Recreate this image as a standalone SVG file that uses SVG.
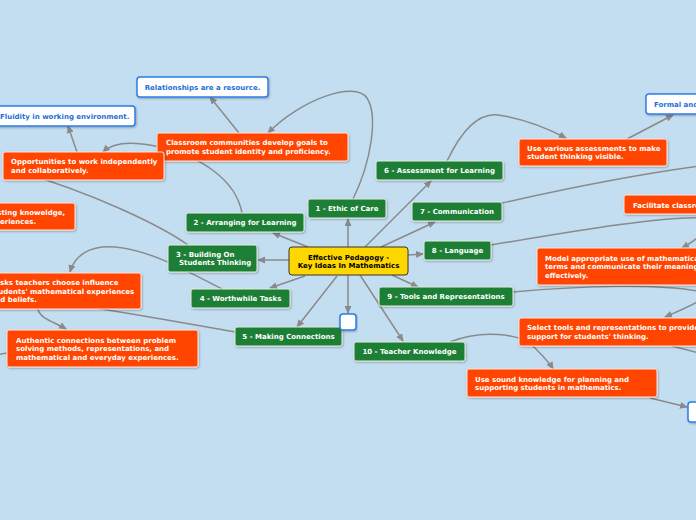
<svg xmlns="http://www.w3.org/2000/svg" width="696" height="520" viewBox="0 0 696 520">
<defs>
<marker id="arr" markerUnits="userSpaceOnUse" markerWidth="9" markerHeight="8" refX="7" refY="3.5" orient="auto">
<path d="M0,0 L8,3.5 L0,7 z" fill="#8a8a8a"/>
</marker>
<filter id="sh" x="-10%" y="-20%" width="120%" height="150%">
<feDropShadow dx="0.8" dy="1" stdDeviation="0.8" flood-color="#000" flood-opacity="0.3"/>
</filter>
</defs>
<style>
.bg{fill:#c4def1}
.c{fill:none;stroke:#8a8a8a;stroke-width:1.5}
.a{marker-end:url(#arr)}
.g{fill:#1f7f35;stroke:#e6efe6;stroke-width:1;filter:url(#sh)}
.o{fill:#ff4500;stroke:#ffe6dc;stroke-width:1;filter:url(#sh)}
.w{fill:#ffffff;stroke:#2b7de9;stroke-width:1.5;filter:url(#sh)}
.y{fill:#ffd700;stroke:#333333;stroke-width:1}
text{font-family:"DejaVu Sans","Liberation Sans",sans-serif;font-weight:bold;font-size:7px}
.tw{fill:#ffffff}
.tb{fill:#1e6fd9}
.tk{fill:#000000}
.m{text-anchor:middle}
</style>
<rect class="bg" x="0" y="0" width="696" height="520"/>
<g id="connectors">
<path class="c a" d="M348,247 L348,219"/>
<path class="c a" d="M308,247 L273,233"/>
<path class="c a" d="M289,260 L258,260"/>
<path class="c a" d="M305,276 L270,288"/>
<path class="c a" d="M337,276 L297,327"/>
<path class="c a" d="M348,275 L348,313"/>
<path class="c a" d="M360,275 L403,341"/>
<path class="c a" d="M392,275 L418,287"/>
<path class="c a" d="M408,255 L423,254"/>
<path class="c a" d="M381,247 L435,222"/>
<path class="c a" d="M365,247 L431,181"/>
<path class="c a" d="M353,199 C372,160 378,115 367,98 C355,80 300,100 268,133"/>
<path class="c a" d="M239,133 L210,97"/>
<path class="c a" d="M242,213 C236,180 200,155 155,146 C130,141 112,143 103,152"/>
<path class="c a" d="M77,152 L68,126"/>
<path class="c" d="M188,245 C160,225 90,192 20,172"/>
<path class="c a" d="M222,289 C185,270 150,250 115,247 C90,245 75,255 70,272"/>
<path class="c a" d="M235,332 C190,324 140,315 95,308 C55,302 35,300 38,310 C42,320 55,322 66,329"/>
<path class="c" d="M7,353 L-10,356"/>
<path class="c a" d="M447,161 C462,130 478,113 498,115 C520,118 545,127 566,138"/>
<path class="c a" d="M627,139 L673,115"/>
<path class="c" d="M502,203 C560,190 640,174 700,166"/>
<path class="c a" d="M491,245 C580,230 670,215 705,218 C715,222 705,235 682,248"/>
<path class="c a" d="M513,292 C580,286 660,283 702,292 C712,297 690,306 665,317"/>
<path class="c a" d="M450,342 C480,330 520,332 535,348 C543,356 549,362 553,369"/>
<path class="c a" d="M650,398 L687,407"/>
<path class="c" d="M672,346 L710,356"/>
</g>
<g id="center">
<rect class="y" x="289" y="247" width="119" height="28" rx="3"/>
<text class="tk m" x="348.5" y="259.8">Effective Pedagogy -</text>
<text class="tk m" x="348.5" y="268">Key Ideas In Mathematics</text>
</g>
<g id="n1"><rect class="g" x="308" y="199" width="78" height="19" rx="2"/><text class="tw m" x="347" y="211">1 - Ethic of Care</text></g>
<g id="n2"><rect class="g" x="186" y="213" width="118" height="19" rx="2"/><text class="tw m" x="245" y="225">2 - Arranging for Learning</text></g>
<g id="n3"><rect class="g" x="168" y="245" width="89" height="27" rx="2"/><text class="tw" x="176" y="256.8">3 - Building On</text><text class="tw" x="179" y="265.2">Students Thinking</text></g>
<g id="n4"><rect class="g" x="191" y="289" width="99" height="19" rx="2"/><text class="tw m" x="240.5" y="301">4 - Worthwhile Tasks</text></g>
<g id="n5"><rect class="g" x="235" y="327" width="107" height="19" rx="2"/><text class="tw m" x="288.5" y="339">5 - Making Connections</text></g>
<g id="n6"><rect class="g" x="376" y="161" width="127" height="19" rx="2"/><text class="tw m" x="439.5" y="173">6 - Assessment for Learning</text></g>
<g id="n7"><rect class="g" x="412" y="202" width="90" height="19" rx="2"/><text class="tw m" x="457" y="214">7 - Communication</text></g>
<g id="n8"><rect class="g" x="424" y="241" width="67" height="19" rx="2"/><text class="tw m" x="457.5" y="253">8 - Language</text></g>
<g id="n9"><rect class="g" x="379" y="287" width="134" height="19" rx="2"/><text class="tw m" x="446" y="299">9 - Tools and Representations</text></g>
<g id="n10"><rect class="g" x="354" y="342" width="111" height="19" rx="2"/><text class="tw m" x="409.5" y="354">10 - Teacher Knowledge</text></g>
<g id="blank1"><rect class="w" x="340" y="314" width="16" height="16" rx="3"/></g>
<g id="classroom"><rect class="o" x="157" y="133" width="191" height="28" rx="2"/><text class="tw" x="166" y="145">Classroom communities develop goals to</text><text class="tw" x="166" y="154">promote student identity and proficiency.</text></g>
<g id="relationships"><rect class="w" x="137" y="77" width="131" height="20" rx="3"/><text class="tb m" x="202.5" y="89.8">Relationships are a resource.</text></g>
<g id="opportunities"><rect class="o" x="3" y="152" width="161" height="28" rx="2"/><text class="tw" x="11" y="163.5">Opportunities to work independently</text><text class="tw" x="11" y="172.5">and collaboratively.</text></g>
<g id="fluidity"><rect class="w" x="-8" y="106" width="143" height="20" rx="3"/><text class="tb" x="0" y="118.8">Fluidity in working environment.</text></g>
<g id="existing"><rect class="o" x="-60" y="203" width="135" height="27" rx="2"/><text class="tw" x="-2.7" y="215">sting knoweldge,</text><text class="tw" x="0" y="223.5">eriences.</text></g>
<g id="tasks"><rect class="o" x="-60" y="273" width="201" height="36" rx="2"/><text class="tw" x="-4.7" y="285.2">asks teachers choose influence</text><text class="tw" x="-5.2" y="293.8">tudents' mathematical experiences</text><text class="tw" x="-4.7" y="302.2">nd beliefs.</text></g>
<g id="authentic"><rect class="o" x="7" y="330" width="191" height="37" rx="2"/><text class="tw" x="16" y="342.5">Authentic connections between problem</text><text class="tw" x="16" y="351.2">solving methods, representations, and</text><text class="tw" x="16" y="359.8">mathematical and everyday experiences.</text></g>
<g id="various"><rect class="o" x="519" y="139" width="148" height="27" rx="2"/><text class="tw" x="527" y="151.2">Use various assessments to make</text><text class="tw" x="527" y="159.4">student thinking visible.</text></g>
<g id="formal"><rect class="w" x="646" y="94" width="100" height="20" rx="3"/><text class="tb" x="654" y="106.8">Formal and</text></g>
<g id="facilitate"><rect class="o" x="624" y="195" width="100" height="19" rx="2"/><text class="tw" x="633" y="208.2">Facilitate classro</text></g>
<g id="model"><rect class="o" x="537" y="248" width="200" height="37" rx="2"/><text class="tw" x="545" y="260.8">Model appropriate use of mathematical</text><text class="tw" x="545" y="269.3">terms and communicate their meaning</text><text class="tw" x="545" y="277.8">effectively.</text></g>
<g id="select"><rect class="o" x="519" y="318" width="200" height="28" rx="2"/><text class="tw" x="527" y="329.8">Select tools and representations to provide</text><text class="tw" x="527" y="338.5">support for students' thinking.</text></g>
<g id="sound"><rect class="o" x="467" y="369" width="190" height="28" rx="2"/><text class="tw" x="475" y="381.8">Use sound knowledge for planning and</text><text class="tw" x="475" y="390.2">supporting students in mathematics.</text></g>
<g id="blank2"><rect class="w" x="688" y="402" width="30" height="20" rx="3"/></g>
</svg>
